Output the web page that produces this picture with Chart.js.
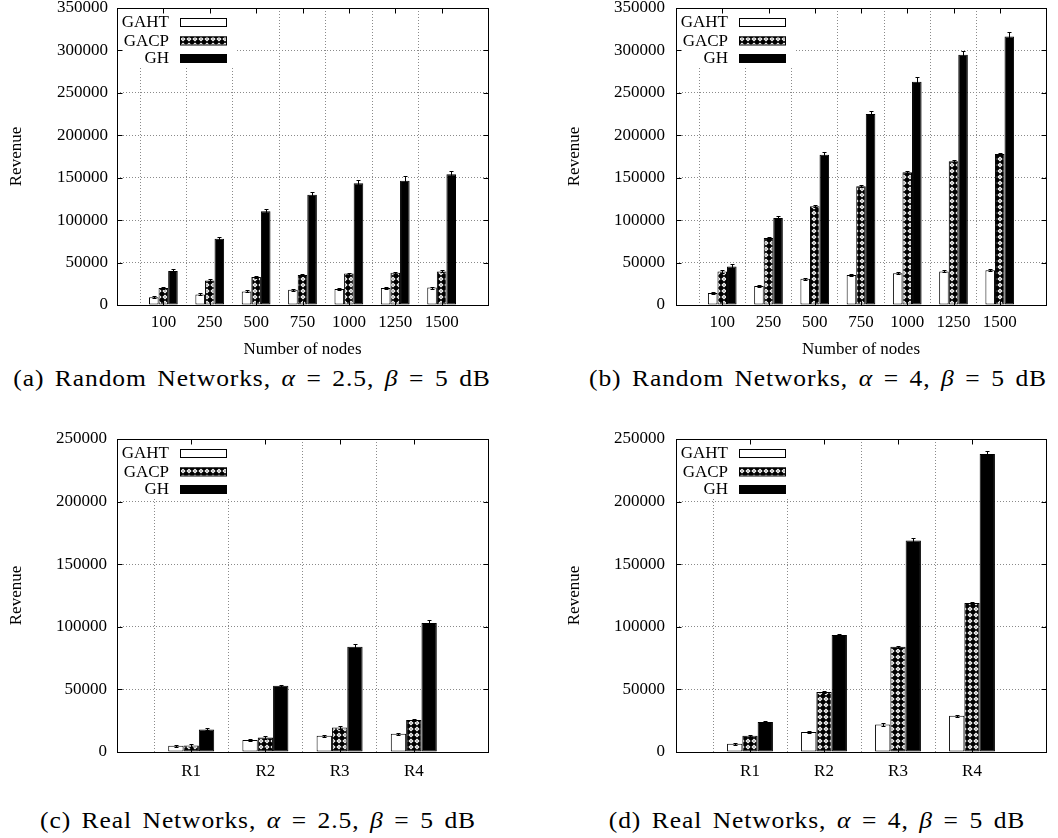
<!DOCTYPE html>
<html>
<head>
<meta charset="utf-8">
<script src="https://cdn.jsdelivr.net/npm/chart.js@4.4.0/dist/chart.umd.min.js"></script>
<style>
  body { margin: 0; background: #fff; }
  #page { position: relative; width: 1058px; height: 838px; overflow: hidden; }
  canvas { position: absolute; }
  .caption {
    position: absolute;
    font-family: "Liberation Serif", "DejaVu Serif", serif;
    font-size: 23px;
    line-height: 23px;
    letter-spacing: 0.8px;
    word-spacing: 3px;
    white-space: nowrap;
    transform: translateX(-50%) scaleX(1.11);
    color: #000;
  }
</style>
</head>
<body>
<div id="page">
  <canvas id="chartA" width="529" height="365" style="left:0;top:0"></canvas>
  <canvas id="chartB" width="529" height="365" style="left:529px;top:0"></canvas>
  <canvas id="chartC" width="529" height="375" style="left:0;top:420px"></canvas>
  <canvas id="chartD" width="529" height="375" style="left:529px;top:420px"></canvas>
  <div class="caption" style="left:252px;top:367px">(a) Random Networks, <i>α</i> = 2.5, <i>β</i> = 5 dB</div>
  <div class="caption" style="left:818px;top:367px">(b) Random Networks, <i>α</i> = 4, <i>β</i> = 5 dB</div>
  <div class="caption" style="left:258px;top:809px">(c) Real Networks, <i>α</i> = 2.5, <i>β</i> = 5 dB</div>
  <div class="caption" style="left:817px;top:809px">(d) Real Networks, <i>α</i> = 4, <i>β</i> = 5 dB</div>
</div>
<script>
// categories
var nodeLabels = ['100', '250', '500', '750', '1000', '1250', '1500'];
var realLabels = ['R1', 'R2', 'R3', 'R4'];
var seriesNames = ['GAHT', 'GACP', 'GH'];

// random networks, alpha = 2.5
var randA_gaht = [9000, 12500, 16000, 18000, 19000, 20000, 20500];
var randA_gacp = [20000, 29000, 33000, 35500, 37000, 38000, 39500];
var randA_gh = [40000, 78000, 110500, 130000, 143500, 146500, 154000];
var randA_gahtErr = [1200, 1200, 1200, 1200, 1200, 1200, 1200];
var randA_gacpErr = [1200, 1200, 1200, 1200, 1200, 1200, 1200];
var randA_ghErr = [2000, 2500, 3000, 3000, 4000, 5000, 4500];

// random networks, alpha = 4
var randB_gaht = [14000, 22500, 31000, 35500, 37500, 39500, 41000];
var randB_gacp = [39500, 79000, 116500, 140000, 156500, 169500, 178000];
var randB_gh = [45500, 102500, 177000, 225000, 263000, 295000, 316500];
var randB_gahtErr = [1200, 1200, 1200, 1200, 1200, 1200, 1200];
var randB_gacpErr = [1500, 1500, 1500, 1500, 1500, 1500, 1500];
var randB_ghErr = [2500, 2800, 3000, 4000, 5500, 4700, 5000];

// real networks, alpha = 2.5
var realC_gaht = [5000, 9500, 13000, 14500];
var realC_gacp = [5200, 11500, 19500, 25500];
var realC_gh = [18000, 53000, 84000, 103000];
var realC_gahtErr = [900, 900, 900, 900];
var realC_gacpErr = [900, 900, 900, 900];
var realC_ghErr = [800, 900, 2400, 2100];

// real networks, alpha = 4
var realD_gaht = [6500, 16000, 22000, 29000];
var realD_gacp = [13000, 48000, 84000, 119000];
var realD_gh = [24000, 93500, 169000, 238000];
var realD_gahtErr = [900, 900, 900, 900];
var realD_gacpErr = [900, 900, 900, 900];
var realD_ghErr = [600, 1000, 1900, 2700];

var yTicksRandom = { max: 350000, step: 50000 };
var yTicksReal = { max: 250000, step: 50000 };

Chart.defaults.font.family = '"Liberation Serif", "Times New Roman", serif';
Chart.defaults.font.size = 17;
Chart.defaults.color = '#000';

// black tile with white diamonds, used for the GACP bars
function diamondPattern() {
  var c = document.createElement('canvas');
  c.width = 6; c.height = 6;
  var g = c.getContext('2d');
  g.fillStyle = '#000';
  g.fillRect(0, 0, 6, 6);
  g.fillStyle = '#fff';
  g.beginPath();
  g.moveTo(3, 0.4); g.lineTo(5.6, 3); g.lineTo(3, 5.6); g.lineTo(0.4, 3);
  g.closePath();
  g.fill();
  g.fillStyle = '#000';
  g.fillRect(2.5, 2.5, 1, 1);
  return g.createPattern(c, 'repeat');
}
var gacpFill = diamondPattern();
var fills = ['#fff', gacpFill, '#000'];

// error bars, legend, frame and inward ticks
var gnuplotLook = {
  id: 'gnuplotLook',
  afterDatasetsDraw: function (chart) {
    var ctx = chart.ctx;
    var a = chart.chartArea;
    var y = chart.scales.y;
    var x = chart.scales.x;

    ctx.save();
    ctx.strokeStyle = '#000';
    ctx.lineWidth = 1;
    chart.data.datasets.forEach(function (ds, di) {
      var meta = chart.getDatasetMeta(di);
      meta.data.forEach(function (bar, i) {
        var v = ds.data[i];
        if (v == null) return;
        var e = ds.errors[i];
        var bx = Math.round(bar.x) + 0.5;
        var top = Math.round(y.getPixelForValue(v + e)) + 0.5;
        var bot = Math.round(y.getPixelForValue(v - e)) + 0.5;
        ctx.beginPath();
        ctx.moveTo(bx, top); ctx.lineTo(bx, bot);
        ctx.moveTo(bx - 2, top); ctx.lineTo(bx + 2, top);
        ctx.moveTo(bx - 2, bot); ctx.lineTo(bx + 2, bot);
        ctx.stroke();
      });
    });

    // legend in the upper left corner
    var L = a.left, T = a.top;
    ctx.fillStyle = '#fff';
    ctx.fillRect(L + 1, T + 1, 118, 57);
    ctx.font = '17px "Liberation Serif", serif';
    ctx.textAlign = 'right';
    ctx.textBaseline = 'middle';
    var rows = [14, 32.5, 50];
    chart.data.datasets.forEach(function (ds, di) {
      var ry = T + rows[di];
      ctx.fillStyle = '#000';
      ctx.fillText(ds.label, L + 52, ry + 1);
      ctx.fillStyle = fills[di];
      ctx.fillRect(L + 63, ry - 4, 47, 8);
      ctx.strokeRect(L + 63.5, ry - 3.5, 46, 8);
    });

    // frame
    var l = Math.round(a.left) + 0.5, r = Math.round(a.right) + 0.5;
    var t = Math.round(a.top) + 0.5, b = Math.round(a.bottom) + 0.5;
    ctx.strokeRect(l, t, r - l, b - t);

    // inward tick marks on all four sides
    ctx.beginPath();
    y.ticks.forEach(function (tk) {
      var py = Math.round(y.getPixelForValue(tk.value)) + 0.5;
      ctx.moveTo(l, py); ctx.lineTo(l + 5, py);
      ctx.moveTo(r, py); ctx.lineTo(r - 5, py);
    });
    chart.data.labels.forEach(function (lab, i) {
      if (!lab) return;
      var px = Math.round(x.getPixelForValue(i)) + 0.5;
      ctx.moveTo(px, b); ctx.lineTo(px, b - 5);
      ctx.moveTo(px, t); ctx.lineTo(px, t + 5);
    });
    ctx.stroke();
    ctx.restore();
  }
};

function makeChart(id, labels, values, errors, yRange, box) {
  // an empty slot on each side leaves one category of space before and after the groups
  var padded = [''].concat(labels, ['']);
  var last = padded.length - 1;
  var datasets = values.map(function (vals, si) {
    return {
      label: seriesNames[si],
      data: [null].concat(vals, [null]),
      errors: [0].concat(errors[si], [0]),
      backgroundColor: fills[si],
      borderColor: '#000',
      borderWidth: 1,
      borderSkipped: false,
      barPercentage: 1,
      categoryPercentage: 0.62
    };
  });

  return new Chart(document.getElementById(id), {
    type: 'bar',
    data: { labels: padded, datasets: datasets },
    options: {
      responsive: false,
      animation: false,
      layout: { padding: { top: box.top, right: box.right, bottom: 0, left: 0 } },
      plugins: { legend: { display: false }, tooltip: { enabled: false } },
      scales: {
        x: {
          type: 'category',
          offset: false,
          grid: {
            drawTicks: false,
            lineWidth: 1,
            color: function (c) {
              return (c.index === 0 || c.index === last) ? 'rgba(0,0,0,0)' : '#8a8a8a';
            }
          },
          border: { display: false, dash: [1, 2] },
          ticks: { autoSkip: false, maxRotation: 0, padding: box.xTickPad },
          title: {
            display: !!box.xTitle,
            text: box.xTitle || '',
            padding: { top: 0, bottom: box.xTitlePad }
          },
          afterFit: function (s) {
            s.height = box.xHeight;
            s.paddingLeft = 0; s.paddingRight = 0;
          }
        },
        y: {
          min: 0,
          max: yRange.max,
          grid: { drawTicks: false, color: '#8a8a8a', lineWidth: 1 },
          border: { display: false, dash: [1, 2] },
          ticks: {
            stepSize: yRange.step,
            padding: box.yTickPad,
            callback: function (v) { return String(v); }
          },
          title: {
            display: true,
            text: 'Revenue',
            padding: { top: box.yTitlePad, bottom: 0 }
          },
          afterFit: function (s) {
            s.width = box.yWidth;
            s.paddingTop = 0; s.paddingBottom = 0;
          }
        }
      }
    },
    plugins: [gnuplotLook]
  });
}

makeChart('chartA', nodeLabels,
  [randA_gaht, randA_gacp, randA_gh],
  [randA_gahtErr, randA_gacpErr, randA_ghErr],
  yTicksRandom,
  { top: 8, right: 41, yWidth: 117, xHeight: 60, yTickPad: 9, xTickPad: 7,
    yTitlePad: 6, xTitle: 'Number of nodes', xTitlePad: 5 });

makeChart('chartB', nodeLabels,
  [randB_gaht, randB_gacp, randB_gh],
  [randB_gahtErr, randB_gacpErr, randB_ghErr],
  yTicksRandom,
  { top: 8, right: 12, yWidth: 147, xHeight: 60, yTickPad: 11, xTickPad: 7,
    yTitlePad: 35, xTitle: 'Number of nodes', xTitlePad: 5 });

makeChart('chartC', realLabels,
  [realC_gaht, realC_gacp, realC_gh],
  [realC_gahtErr, realC_gacpErr, realC_ghErr],
  yTicksReal,
  { top: 19, right: 41, yWidth: 117, xHeight: 43, yTickPad: 10, xTickPad: 9,
    yTitlePad: 6 });

makeChart('chartD', realLabels,
  [realD_gaht, realD_gacp, realD_gh],
  [realD_gahtErr, realD_gacpErr, realD_ghErr],
  yTicksReal,
  { top: 19, right: 12, yWidth: 147, xHeight: 43, yTickPad: 11, xTickPad: 9,
    yTitlePad: 35 });
</script>
</body>
</html>
